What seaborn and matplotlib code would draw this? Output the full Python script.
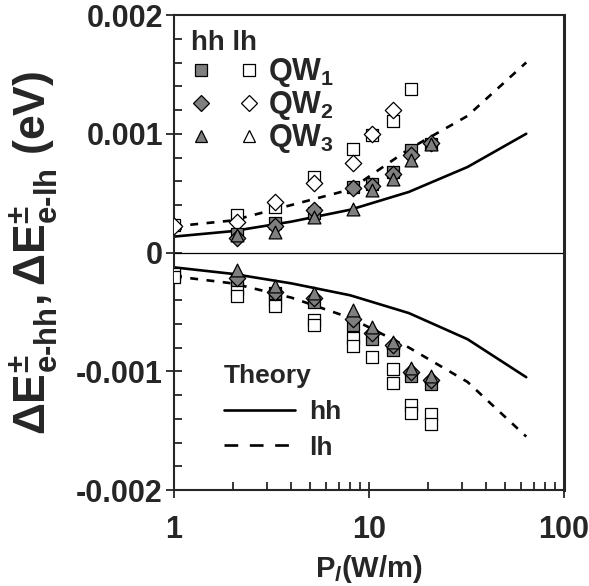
import numpy as np
import pandas as pd
import matplotlib
matplotlib.use("Agg")
import matplotlib.pyplot as plt
import seaborn as sns
from matplotlib.lines import Line2D
from matplotlib.legend_handler import HandlerTuple
from matplotlib.ticker import FixedLocator, FuncFormatter, LogLocator

# measured points (W/m)
x_exp = [1.0, 2.1, 3.3, 5.2, 8.25, 10.4, 13.2, 16.4, 20.8]

# positive branch
hh_qw1_pos = [np.nan, 0.00016, 0.000246, 0.00033, 0.00055, 0.00058, 0.00068, 0.00086, 0.00091]
hh_qw2_pos = [np.nan, 0.00012, 0.00022, 0.00036, 0.00054, 0.00056, 0.00066, 0.00082, 0.00092]
hh_qw3_pos = [np.nan, 0.00015, 0.000176, 0.00030, 0.000363, 0.000525, 0.00062, 0.00078, 0.000915]
lh_qw1_pos = [0.00023, 0.000316, 0.000385, 0.00064, 0.00087, 0.00099, 0.00111, 0.00138, np.nan]
lh_qw2_pos = [0.00022, 0.00026, 0.000427, 0.000586, 0.00075, 0.00100, 0.00120, np.nan, np.nan]

# negative branch
hh_qw1_neg = [np.nan, -0.00023, -0.00034, -0.00042, -0.00061, -0.00073, -0.00082, -0.00104, -0.00111]
hh_qw2_neg = [np.nan, -0.000216, -0.00033, -0.00038, -0.00056, -0.00068, -0.00078, -0.00101, -0.00107]
hh_qw3_neg = [np.nan, -0.000145, -0.000285, -0.00034, -0.00048, -0.000625, -0.00075, -0.00097, -0.00104]
lh_neg_a = [-0.00018, -0.00031, -0.00040, -0.00057, -0.00072, -0.00088, -0.00098, -0.00128, -0.00136]
lh_neg_b = [-0.00021, -0.00037, -0.00045, -0.00061, -0.00079, np.nan, -0.00110, -0.00135, -0.00144]

# theory
x_th = [1, 2, 4, 8, 16, 32, 64]
hh_th_pos = [0.000134, 0.00018, 0.00026, 0.00036, 0.00051, 0.00072, 0.00100]
lh_th_pos = [0.00022, 0.00027, 0.00040, 0.00053, 0.00087, 0.00115, 0.00160]
hh_th_neg = [-0.000125, -0.00018, -0.00026, -0.00036, -0.00051, -0.00073, -0.00105]
lh_th_neg = [-0.00020, -0.00026, -0.00038, -0.00055, -0.00080, -0.00109, -0.00155]

sns.set_theme(style="ticks")
plt.rcParams["font.family"] = ["Liberation Sans", "DejaVu Sans"]
plt.rcParams["font.weight"] = "bold"
plt.rcParams["axes.labelweight"] = "bold"
plt.rcParams["axes.unicode_minus"] = False
plt.rcParams["mathtext.fontset"] = "custom"
plt.rcParams["mathtext.rm"] = "Liberation Sans:bold"
plt.rcParams["mathtext.bf"] = "Liberation Sans:bold"
plt.rcParams["mathtext.it"] = "Liberation Sans:bold:italic"

fig = plt.figure(figsize=(5.89, 5.86), dpi=100)
ax = fig.add_axes([0.2954, 0.1638, 0.6622, 0.8106])

GRAY = "#7f7f7f"
lw_th = 1.9

ax.axhline(0, color="black", lw=0.9, zorder=1)

th = pd.DataFrame({"x": x_th, "hh_pos": hh_th_pos, "lh_pos": lh_th_pos,
                   "hh_neg": hh_th_neg, "lh_neg": lh_th_neg})
for col, ls in [("hh_pos", "-"), ("hh_neg", "-"), ("lh_pos", (0, (3, 3.2))), ("lh_neg", (0, (3, 3.2)))]:
    sns.lineplot(data=th, x="x", y=col, ax=ax, color="black", lw=lw_th,
                 linestyle=ls, zorder=2)

exp = pd.DataFrame({"x": x_exp})
series = [
    (lh_qw1_pos, "s", "white"),
    (lh_qw2_pos, "D", "white"),
    (lh_neg_a, "s", "white"),
    (lh_neg_b, "s", "white"),
    (hh_qw1_pos, "s", GRAY),
    (hh_qw1_neg, "s", GRAY),
    (hh_qw2_pos, "D", GRAY),
    (hh_qw2_neg, "D", GRAY),
    (hh_qw3_pos, "^", GRAY),
    (hh_qw3_neg, "^", GRAY),
]
for i, (vals, mk, fc) in enumerate(series):
    exp["y"] = vals
    size = 70 if mk == "D" else 85
    sns.scatterplot(data=exp, x="x", y="y", ax=ax, marker=mk, s=size,
                    color=fc, edgecolor="black", linewidth=0.9, zorder=3 + i)

ax.set_xscale("log")
ax.set_xlim(1, 100)
ax.set_ylim(-0.002, 0.002)

ax.yaxis.set_major_locator(FixedLocator([-0.002, -0.001, 0, 0.001, 0.002]))
ax.yaxis.set_minor_locator(FixedLocator(np.arange(-0.002, 0.00201, 0.0002)))
ax.yaxis.set_major_formatter(FuncFormatter(lambda v, p: "0" if abs(v) < 1e-9 else f"{v:.3f}"))
ax.xaxis.set_major_locator(FixedLocator([1, 10, 100]))
ax.xaxis.set_minor_locator(LogLocator(base=10, subs=np.arange(2, 10)))
ax.xaxis.set_major_formatter(FuncFormatter(lambda v, p: f"{v:g}"))

ax.tick_params(axis="both", which="major", direction="inout", length=12, width=1.3,
               labelsize=22, pad=2, top=False, right=False)
ax.tick_params(axis="both", which="minor", direction="in", length=6, width=1.3,
               top=False, right=False)
ax.tick_params(axis="x", which="major", pad=12)
for s in ax.spines.values():
    s.set_linewidth(1.5)
    s.set_visible(True)
ax.spines["right"].set_linewidth(2.2)

ax.set_xlabel(r"P$_{\mathit{l}}$(W/m)", fontsize=21, labelpad=6)
ax.set_ylabel("$\\mathbf{\\Delta E^{\\pm}_{e\u2010hh}, \\Delta E^{\\pm}_{e\u2010lh}}$ (eV)",
              fontsize=32, labelpad=11)

# marker legend
def mk(m, fc):
    return Line2D([], [], ls="none", marker=m, ms=9 if m != "D" else 8,
                  mfc=fc, mec="black", mew=0.9)

handles = [(mk("s", GRAY), mk("s", "white")),
           (mk("D", GRAY), mk("D", "white")),
           (mk("^", GRAY), mk("^", "white"))]
leg1 = ax.legend(handles, ["QW$_1$", "QW$_2$", "QW$_3$"],
                 handler_map={tuple: HandlerTuple(ndivide=None, pad=0.9)},
                 loc="upper left", bbox_to_anchor=(0.005, 1.0), frameon=False,
                 fontsize=22, title="hh lh", title_fontsize=20, alignment="left",
                 handlelength=2.2, handletextpad=0.3, labelspacing=0.0,
                 borderaxespad=0.3, borderpad=0.2)
ax.add_artist(leg1)

th_handles = [Line2D([], [], color="black", lw=lw_th, ls="-"),
              Line2D([], [], color="black", lw=lw_th, ls=(0, (5.2, 4.4)))]
ax.legend(th_handles, ["hh", "lh"], loc="lower left", bbox_to_anchor=(0.08, 0.025),
          frameon=False, fontsize=19, title="Theory", title_fontsize=19,
          alignment="left", handlelength=2.7, handletextpad=0.55, labelspacing=0.45,
          borderpad=0.2)

fig.savefig("out.png", dpi=100)
